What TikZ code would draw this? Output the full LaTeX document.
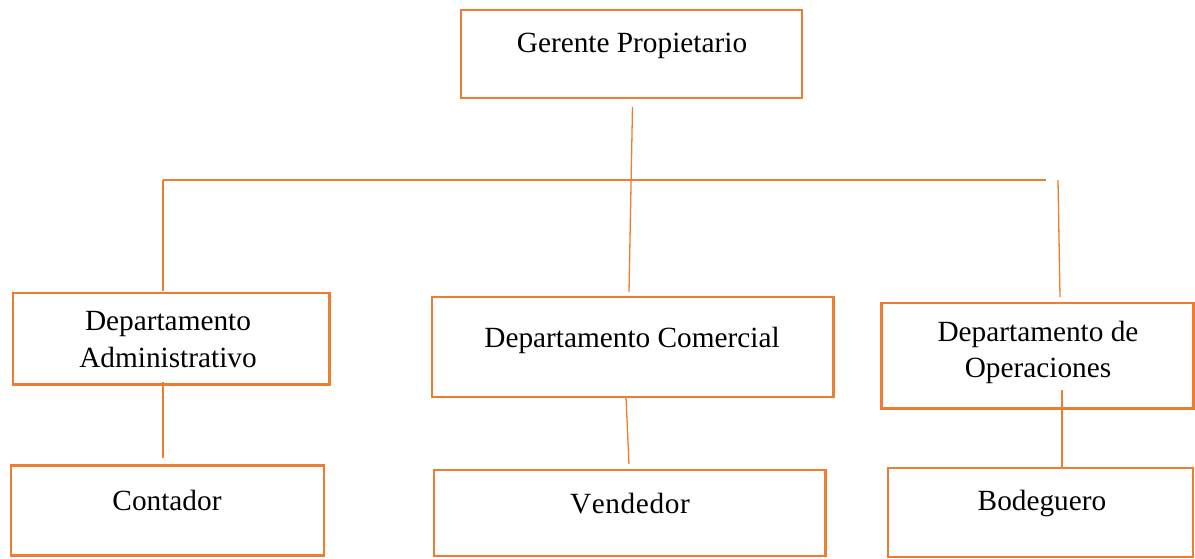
\documentclass[tikz,border=0pt]{standalone}
\usepackage{fontspec}
\setmainfont{Liberation Serif}
\definecolor{borange}{HTML}{ED7D31}
\begin{document}
\begin{tikzpicture}[x=1pt,y=-1pt,
  box/.style={draw=borange,line width=2.6pt,rectangle,inner sep=0pt,outer sep=0pt,fill=white},
  lbl/.style={inner sep=0pt,outer sep=0pt,align=center,font=\fontsize{29.3}{37}\selectfont,text=black},
  conn/.style={draw=borange,line width=1.3pt}]
\useasboundingbox (0,0) rectangle (1195,559);
% boxes
\node[box,minimum width=341pt,minimum height=88pt] (gp) at (631.5,54) {};
\node[box,minimum width=316.5pt,minimum height=91.5pt] (da) at (171.25,338.75) {};
\node[box,minimum width=401.7pt,minimum height=100pt] (dc) at (632.85,347) {};
\node[box,minimum width=312pt,minimum height=105.5pt] (do) at (1037.5,355.75) {};
\node[box,minimum width=313pt,minimum height=90pt] (ct) at (167.5,510.5) {};
\node[box,minimum width=391.5pt,minimum height=86pt] (vd) at (629.75,513) {};
\node[box,minimum width=305pt,minimum height=89pt] (bg) at (1040.5,512.5) {};
% labels
\node[lbl,anchor=base] (gpt) at (632,53) {Gerente Propietario};
\node[lbl,anchor=base,font=\fontsize{29.3}{37}\selectfont] (dat) at (168,367) {Departamento\\Administrativo};
\node[lbl,anchor=base,font=\fontsize{29.3}{35.5}\selectfont] (dot) at (1038,377) {Departamento de\\Operaciones};
\node[lbl,anchor=base] (dct) at (632,347) {Departamento Comercial};
\node[lbl,anchor=base] (ctt) at (167,510) {Contador};
\node[lbl,anchor=base] (vdt) at (630,513) {V\kern0.6pt e\kern0.6pt n\kern0.6pt d\kern0.6pt e\kern0.6pt d\kern0.6pt o\kern0.6pt r};
\node[lbl,anchor=base] (bgt) at (1042,510) {Bodeguero};
% connector end points
\coordinate (gpD) at (632.5,107);
\coordinate (dcU) at (629,292);
\coordinate (hL) at (163,180);
\coordinate (hR) at (1046,180);
\coordinate (daU) at (163,291);
\coordinate (rT) at (1058,180);
\coordinate (doU) at (1060,297);
\coordinate (daD) at (163,382);
\coordinate (ctU) at (163,458);
\coordinate (dcD) at (626,397);
\coordinate (vdU) at (629,464);
\coordinate (doD) at (1062,390);
\coordinate (bgU) at (1062,467);
% connectors
\draw[conn] (gpD) -- (dcU);
\draw[conn] (hL) -- (hR);
\draw[conn] (hL) -- (daU);
\draw[conn] (rT) -- (doU);
\draw[conn] (daD) -- (ctU);
\draw[conn] (dcD) -- (vdU);
\draw[conn] (doD) -- (bgU);
\end{tikzpicture}
\end{document}
